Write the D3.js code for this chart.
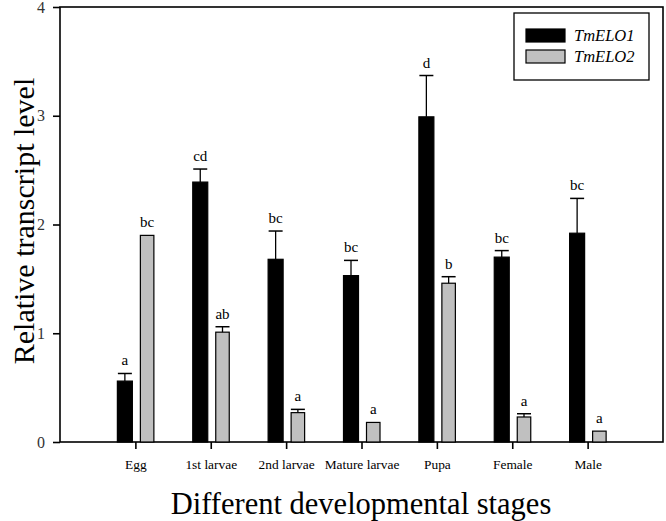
<!DOCTYPE html>
<html><head><meta charset="utf-8">
<script src="https://cdn.jsdelivr.net/npm/d3@7"></script>
<style>body{margin:0;background:#fff}svg{display:block}</style>
</head><body>
<script>
const categories = ["Egg","1st larvae","2nd larvae","Mature larvae","Pupa","Female","Male"];
const elo1 = [0.56, 2.39, 1.68, 1.53, 2.99, 1.70, 1.92];
const elo1Err = [0.07, 0.12, 0.26, 0.14, 0.38, 0.06, 0.32];
const elo2 = [1.90, 1.01, 0.27, 0.18, 1.46, 0.23, 0.10];
const elo2Err = [0.00, 0.05, 0.03, 0.00, 0.06, 0.03, 0.00];
const elo1Letters = ["a","cd","bc","bc","d","bc","bc"];
const elo2Letters = ["bc","ab","a","a","b","a","a"];
const yTicks = [0,1,2,3,4];

const W = 666, H = 521;
const L = 60, R = 663, T = 7, B = 442;
const svg = d3.select("body").append("svg").attr("width", W).attr("height", H);
const font = "'Liberation Serif','Times New Roman',serif";

const x = d3.scaleLinear().domain([0, categories.length + 1]).range([L, R]);
const y = d3.scaleLinear().domain([0, 4]).range([B, T]);

// frame
svg.append("rect").attr("x", L).attr("y", T).attr("width", R - L).attr("height", B - T)
  .attr("fill", "none").attr("stroke", "#000").attr("stroke-width", 1.6);

// y axis
const yAxis = svg.append("g").attr("transform", `translate(${L},0)`)
  .call(d3.axisLeft(y).tickValues(yTicks).tickFormat(d3.format("d")).tickSize(7).tickPadding(8));
yAxis.select(".domain").remove();
yAxis.selectAll("line").attr("stroke", "#000").attr("stroke-width", 1.6);
yAxis.selectAll("text").attr("font-family", font).attr("font-size", 16).attr("fill", "#333");

// x axis
const xAxis = svg.append("g").attr("transform", `translate(0,${B})`)
  .call(d3.axisBottom(x).tickValues(categories.map((c, i) => i + 1))
    .tickFormat((d) => categories[d - 1]).tickSize(7).tickPadding(10));
xAxis.select(".domain").remove();
xAxis.selectAll("line").attr("stroke", "#000").attr("stroke-width", 1.6);
xAxis.selectAll("text").attr("font-family", font).attr("font-size", 13.4).attr("fill", "#000");

const series = [
  {vals: elo1, err: elo1Err, lab: elo1Letters, fill: "#000", x0: -18, x1: -3},
  {vals: elo2, err: elo2Err, lab: elo2Letters, fill: "#c0c0c0", x0: 5, x1: 18.5}
];
series.forEach(s => {
  const g = svg.append("g");
  s.vals.forEach((v, i) => {
    const cx = x(i + 1);
    const xa = cx + s.x0, xb = cx + s.x1, xm = (xa + xb) / 2;
    g.append("rect").attr("x", xa).attr("y", y(v)).attr("width", xb - xa).attr("height", y(0) - y(v))
      .attr("fill", s.fill).attr("stroke", "#000").attr("stroke-width", 1.2);
    const et = y(v + s.err[i]);
    if (s.err[i] > 0) {
      g.append("line").attr("x1", xm).attr("x2", xm).attr("y1", y(v)).attr("y2", et)
        .attr("stroke", "#000").attr("stroke-width", 1.3);
      g.append("line").attr("x1", xm - 7).attr("x2", xm + 7).attr("y1", et).attr("y2", et)
        .attr("stroke", "#000").attr("stroke-width", 1.5);
    }
    g.append("text").attr("x", xm).attr("y", et - 8).attr("text-anchor", "middle")
      .attr("font-family", font).attr("font-size", 15).attr("fill", "#000").text(s.lab[i]);
  });
});

// legend
const lg = svg.append("g");
lg.append("rect").attr("x", 514).attr("y", 13).attr("width", 135).attr("height", 67)
  .attr("fill", "#fff").attr("stroke", "#000").attr("stroke-width", 1.3);
[["TmELO1", "#000"], ["TmELO2", "#c0c0c0"]].forEach((d, i) => {
  lg.append("rect").attr("x", 526).attr("y", 29 + i * 21).attr("width", 39).attr("height", 13)
    .attr("fill", d[1]).attr("stroke", "#000").attr("stroke-width", 1.2);
  lg.append("text").attr("x", 574).attr("y", 41 + i * 21).attr("font-family", font)
    .attr("font-style", "italic").attr("font-size", 16.5).attr("fill", "#000").text(d[0]);
});

// titles
svg.append("text").attr("x", 361).attr("y", 514).attr("text-anchor", "middle")
  .attr("font-family", font).attr("font-size", 30.5).attr("fill", "#000").text("Different developmental stages");
svg.append("text").attr("transform", "translate(34,221) rotate(-90)").attr("text-anchor", "middle")
  .attr("font-family", font).attr("font-size", 30).attr("fill", "#000").text("Relative transcript level");
</script>
</body></html>
